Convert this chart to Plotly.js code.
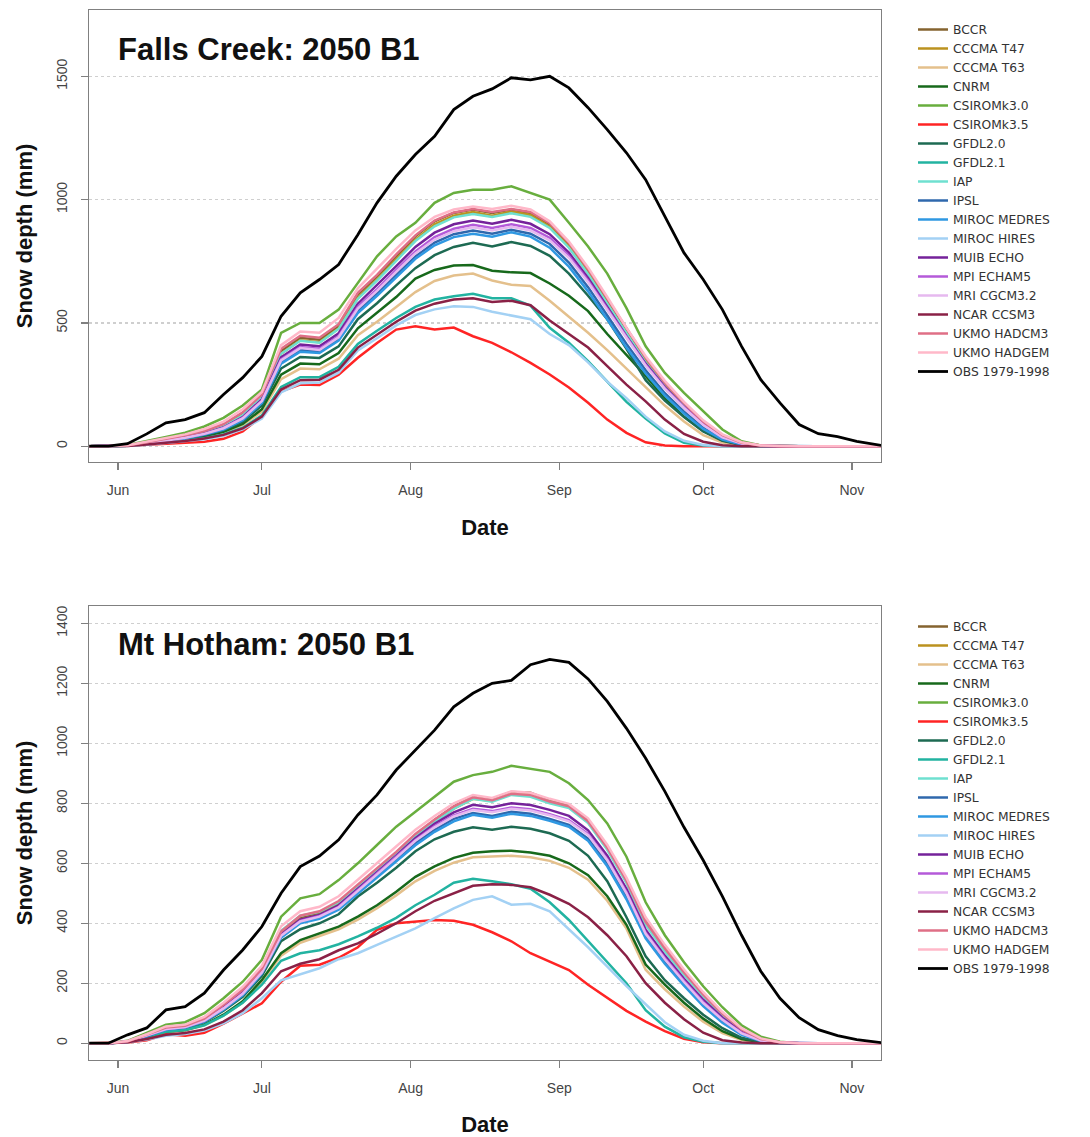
<!DOCTYPE html>
<html><head><meta charset="utf-8">
<script src="https://cdn.plot.ly/plotly-3.0.1.min.js"></script>
<style>html,body{margin:0;padding:0;background:#fff;}#chart{width:1090px;height:1137px;}</style>
</head><body><div id="chart"></div>
<script>
// Sample dates (every 4 days)
const dates = ['2050-05-26','2050-05-30','2050-06-03','2050-06-07','2050-06-11','2050-06-15','2050-06-19','2050-06-23','2050-06-27','2050-07-01',
'2050-07-05','2050-07-09','2050-07-13','2050-07-17','2050-07-21','2050-07-25','2050-07-29','2050-08-02','2050-08-06','2050-08-10',
'2050-08-14','2050-08-18','2050-08-22','2050-08-26','2050-08-30','2050-09-03','2050-09-07','2050-09-11','2050-09-15','2050-09-19',
'2050-09-23','2050-09-27','2050-10-01','2050-10-05','2050-10-09','2050-10-13','2050-10-17','2050-10-21','2050-10-25','2050-10-29',
'2050-11-02','2050-11-08'];

const seriesNames = ['BCCR','CCCMA T47','CCCMA T63','CNRM','CSIROMk3.0','CSIROMk3.5','GFDL2.0','GFDL2.1','IAP','IPSL',
'MIROC MEDRES','MIROC HIRES','MUIB ECHO','MPI ECHAM5','MRI CGCM3.2','NCAR CCSM3','UKMO HADCM3','UKMO HADGEM','OBS 1979-1998'];
const seriesColors = ['#85632f','#bb921f','#e4c08c','#17691b','#68ae3e','#ff2424','#1d6a52','#22b3a1','#6fe0d0','#2f68ad',
'#2f98e2','#a3d1f4','#75229a','#b45ad9','#e6b9ef','#8a2146','#df6f86','#ffb8c9','#000000'];

const monthTicks = ['2050-06-01','2050-07-01','2050-08-01','2050-09-01','2050-10-01','2050-11-01'];
const monthLabels = ['Jun','Jul','Aug','Sep','Oct','Nov'];
const fcYTicks = [0,500,1000,1500];
const mhYTicks = [0,200,400,600,800,1000,1200,1400];

// Falls Creek: 2050 B1 (mm)
const fcOBS = [0,0,10,50,95,108,136,210,278,364, 527,622,676,737,858,987,1095,1183,1257,1365, 1419,1449,1494,1486,1500,1453,1373,1284,1190,1081, 932,784,676,554,405,270,176,88,51,39, 20,0];
const fcBCCR = [0,0,3,15,28,40,58,85,130,203, 386,440,432,486,615,689,770,851,912,946, 960,946,960,946,899,818,710,588,466,351, 250,169,95,41,14,3,0,0,0,0, 0,0];
const fcT47 = [0,0,3,14,27,38,56,82,125,198, 375,430,422,478,602,676,758,838,900,935, 950,935,952,938,890,810,702,580,458,345, 246,165,92,40,13,3,0,0,0,0, 0,0];
const fcT63 = [0,0,2,9,17,26,38,55,86,140, 272,315,312,355,450,505,565,625,670,692, 700,672,655,650,590,525,460,390,315,238, 165,100,45,15,3,0,0,0,0,0, 0,0];
const fcCNRM = [0,0,2,9,18,27,40,58,90,150, 290,335,332,378,478,540,605,680,715,733, 735,712,705,702,660,610,548,455,370,285, 195,120,62,24,6,0,0,0,0,0, 0,0];
const fcCSIRO30 = [0,0,5,20,38,55,80,115,165,230, 460,500,500,554,662,770,851,906,987,1027, 1040,1040,1054,1027,1000,906,810,700,560,405, 297,216,142,68,20,3,0,0,0,0, 0,0];
const fcCSIRO35 = [0,0,2,6,9,12,18,30,60,122, 223,250,248,290,359,419,473,486,473,481, 446,419,381,338,291,238,176,108,54,16, 3,0,0,0,0,0,0,0,0,0, 0,0];
const fcGFDL20 = [0,0,2,10,20,30,44,64,100,165, 315,362,358,405,515,580,652,722,775,808, 825,810,828,812,772,700,610,515,395,268, 185,118,60,22,5,0,0,0,0,0, 0,0];
const fcGFDL21 = [0,0,2,8,15,22,32,48,75,125, 240,280,280,322,415,468,520,565,595,608, 618,600,600,570,480,420,345,262,180,112, 52,14,3,0,0,0,0,0,0,0, 0,0];
const fcIAP = [0,0,3,14,26,38,55,80,125,200, 375,428,420,476,598,672,752,832,892,928, 942,930,945,930,885,805,698,578,455,340, 242,162,90,38,12,2,0,0,0,0, 0,0];
const fcIPSL = [0,0,2,12,23,33,48,70,110,180, 340,390,383,435,548,620,695,770,826,860, 875,862,878,862,820,745,645,530,415,308, 215,140,75,30,8,1,0,0,0,0, 0,0];
const fcMEDRES = [0,0,2,11,22,32,47,68,106,175, 335,383,378,428,540,610,685,760,815,848, 862,850,868,850,805,728,628,515,400,295, 205,132,70,27,7,1,0,0,0,0, 0,0];
const fcHIRES = [0,0,1,6,13,19,28,42,68,112, 218,255,258,298,388,438,490,532,555,568, 565,545,530,515,455,410,340,262,195,120, 60,22,5,0,0,0,0,0,0,0, 0,0];
const fcMUIB = [0,0,3,13,25,36,52,76,118,190, 360,412,405,458,578,652,730,808,866,900, 915,902,918,902,860,785,682,565,446,335, 240,160,90,38,12,2,0,0,0,0, 0,0];
const fcMPI = [0,0,3,13,24,35,50,74,115,185, 352,402,395,447,565,637,715,790,848,882, 898,885,900,885,845,772,672,557,440,330, 236,158,88,37,12,2,0,0,0,0, 0,0];
const fcMRI = [0,0,3,12,24,34,50,73,113,183, 348,398,390,442,558,630,707,782,838,872, 888,875,890,875,835,764,665,551,435,326, 233,155,86,36,11,2,0,0,0,0, 0,0];
const fcNCAR = [0,0,1,7,14,21,31,46,72,120, 230,268,270,310,400,452,505,550,578,595, 600,585,590,572,510,455,400,325,250,182, 108,50,18,4,0,0,0,0,0,0, 0,0];
const fcHADCM3 = [0,0,3,16,30,44,62,90,138,210, 395,448,440,495,622,695,778,855,915,948, 962,950,962,950,905,825,718,598,475,360, 258,175,100,45,14,3,0,0,0,0, 0,0];
const fcHADGEM = [0,0,4,18,33,48,70,100,150,220, 410,465,460,520,640,720,800,875,930,960, 972,962,975,960,912,830,725,605,480,365, 265,180,105,48,16,3,0,0,0,0, 0,0];

// Mt Hotham: 2050 B1 (mm)
const mhOBS = [0,0,28,51,111,122,167,244,311,389, 500,589,624,678,761,828,911,978,1044,1122, 1167,1200,1210,1262,1280,1270,1215,1140,1050,950, 840,720,610,490,360,240,150,85,45,25, 12,0];
const mhBCCR = [0,0,6,28,52,58,80,125,175,244, 367,417,433,467,522,578,633,694,744,789, 822,815,838,835,810,794,744,655,544,410, 320,240,165,100,48,15,3,0,0,0, 0,0];
const mhT47 = [0,0,6,27,50,56,78,122,172,240, 362,412,428,462,516,572,627,688,738,782, 815,808,832,828,804,788,737,648,538,400, 312,232,160,96,45,14,3,0,0,0, 0,0];
const mhT63 = [0,0,4,19,36,42,60,92,136,205, 292,335,358,380,412,450,493,540,575,602, 620,622,625,620,608,585,545,475,382,245, 180,122,72,34,11,2,0,0,0,0, 0,0];
const mhCNRM = [0,0,4,20,38,44,62,95,140,211, 300,344,367,389,422,460,505,555,590,618, 635,640,642,636,625,600,560,490,395,262, 195,135,82,40,14,3,0,0,0,0, 0,0];
const mhCSIRO30 = [0,0,8,35,62,70,100,150,205,278, 422,483,497,544,600,661,722,772,822,872, 894,905,925,915,905,867,811,733,622,470, 360,270,190,120,60,22,5,0,0,0, 0,0];
const mhCSIRO35 = [0,0,2,10,30,25,35,65,100,133, 205,258,262,285,320,378,400,405,411,408, 395,370,340,300,272,244,195,150,108,72, 40,15,3,0,0,0,0,0,0,0, 0,0];
const mhGFDL20 = [0,0,5,24,44,50,70,108,155,225, 340,380,400,430,489,535,585,640,680,705, 720,712,722,715,700,675,625,540,420,290, 210,150,95,50,18,4,0,0,0,0, 0,0];
const mhGFDL21 = [0,0,4,20,38,44,60,92,135,195, 275,300,310,330,356,385,418,460,495,535, 548,540,530,515,470,411,340,270,200,110, 55,20,5,0,0,0,0,0,0,0, 0,0];
const mhIAP = [0,0,6,28,52,58,82,128,180,250, 375,425,438,470,522,576,630,690,738,782, 815,805,828,822,800,784,734,645,535,395, 306,228,156,94,44,13,2,0,0,0, 0,0];
const mhIPSL = [0,0,5,24,46,53,73,114,162,235, 356,404,420,450,503,558,612,668,712,748, 768,758,772,765,748,728,682,598,488,355, 270,196,128,72,30,8,1,0,0,0, 0,0];
const mhMEDRES = [0,0,5,24,45,52,72,112,160,232, 352,400,415,445,498,552,605,660,705,740, 762,752,765,758,742,722,675,590,480,350, 265,192,124,68,28,7,1,0,0,0, 0,0];
const mhHIRES = [0,0,3,12,25,31,42,66,100,150, 210,230,250,280,300,328,356,383,417,450, 478,490,462,465,440,380,320,255,190,130, 70,28,8,0,0,0,0,0,0,0, 0,0];
const mhMUIB = [0,0,6,26,49,56,77,120,170,240, 362,412,428,460,515,570,625,684,732,770, 795,787,800,794,778,758,710,625,515,378, 292,215,145,85,38,10,2,0,0,0, 0,0];
const mhMPI = [0,0,5,25,47,54,75,117,166,238, 360,408,424,455,510,566,621,678,724,760, 782,774,786,780,764,744,698,614,504,368, 284,208,138,80,35,10,2,0,0,0, 0,0];
const mhMRI = [0,0,5,25,47,54,75,116,165,236, 358,406,422,453,507,563,618,675,720,756, 778,770,782,776,760,740,694,610,500,365, 280,204,134,78,33,9,2,0,0,0, 0,0];
const mhNCAR = [0,0,3,14,28,34,46,72,110,167, 240,265,280,310,333,365,400,440,475,500, 525,530,528,520,495,465,420,360,290,200, 135,80,35,10,2,0,0,0,0,0, 0,0];
const mhHADCM3 = [0,0,6,28,52,58,82,128,178,248, 372,425,440,474,528,584,638,698,746,790, 820,810,832,828,806,790,740,652,542,405, 316,236,162,98,46,14,3,0,0,0, 0,0];
const mhHADGEM = [0,0,7,30,56,62,88,135,188,258, 390,440,455,490,545,600,655,712,758,800, 828,818,840,835,815,798,750,662,552,420, 328,246,170,104,50,16,3,0,0,0, 0,0];

const fcValues = [fcBCCR,fcT47,fcT63,fcCNRM,fcCSIRO30,fcCSIRO35,fcGFDL20,fcGFDL21,fcIAP,fcIPSL,fcMEDRES,fcHIRES,fcMUIB,fcMPI,fcMRI,fcNCAR,fcHADCM3,fcHADGEM,fcOBS];
const mhValues = [mhBCCR,mhT47,mhT63,mhCNRM,mhCSIRO30,mhCSIRO35,mhGFDL20,mhGFDL21,mhIAP,mhIPSL,mhMEDRES,mhHIRES,mhMUIB,mhMPI,mhMRI,mhNCAR,mhHADCM3,mhHADGEM,mhOBS];

const traces = [];
seriesNames.forEach((name, i) => {
  traces.push({type:'scatter', mode:'lines', x:dates, y:fcValues[i], name:name,
    line:{color:seriesColors[i], width: i === 18 ? 2.8 : 2.5}, xaxis:'x', yaxis:'y', legend:'legend'});
});
seriesNames.forEach((name, i) => {
  traces.push({type:'scatter', mode:'lines', x:dates, y:mhValues[i], name:name,
    line:{color:seriesColors[i], width: i === 18 ? 2.8 : 2.5}, xaxis:'x2', yaxis:'y2', legend:'legend2'});
});

const W = 1090, H = 1137;
const FONT = 'Liberation Sans, Arial, Helvetica, sans-serif';
const axisBase = {showline:true, linecolor:'#808080', linewidth:1.4, mirror:true, ticks:'outside', ticklen:7,
  tickcolor:'#808080', tickwidth:1.2, tickfont:{family:FONT, size:14, color:'#444'}, zeroline:false, ticklabelstandoff:8};
const xBase = Object.assign({}, axisBase, {type:'date', domain:[89/W, 881/W], range:['2050-05-25 23:00','2050-11-07 01:30'],
  tickmode:'array', tickvals:monthTicks, ticktext:monthLabels, showgrid:false,
  title:{text:'<b>Date</b>', font:{family:FONT, size:22, color:'#111'}, standoff:22}});
const yBase = Object.assign({}, axisBase, {tickmode:'array', tickangle:-90, showgrid:true, gridcolor:'#cfcfcf', griddash:'dot', gridwidth:1.2,
  title:{text:'<b>Snow depth (mm)</b>', font:{family:FONT, size:22, color:'#111'}, standoff:15}});

const legendFont = {family:'DejaVu Sans, sans-serif', size:12.3, color:'#333'};
const layout = {
  width:W, height:H, margin:{l:0, r:0, t:0, b:0}, paper_bgcolor:'#fff', plot_bgcolor:'#fff',
  font:{family:FONT}, showlegend:true,
  xaxis: Object.assign({}, xBase, {anchor:'y'}),
  yaxis: Object.assign({}, yBase, {anchor:'x', domain:[1-462/H, 1-10/H], range:[-64,1769], tickvals:fcYTicks, ticktext:fcYTicks.map(String)}),
  xaxis2: Object.assign({}, xBase, {anchor:'y2'}),
  yaxis2: Object.assign({}, yBase, {anchor:'x2', domain:[1-1060/H, 1-606/H], range:[-56,1458], tickvals:mhYTicks, ticktext:mhYTicks.map(String)}),
  legend:{x:913/W, y:1-15/H, xanchor:'left', yanchor:'top', bgcolor:'rgba(0,0,0,0)', font:legendFont, tracegroupgap:0},
  legend2:{x:913/W, y:1-612/H, xanchor:'left', yanchor:'top', bgcolor:'rgba(0,0,0,0)', font:legendFont, tracegroupgap:0},
  annotations:[
    {text:'<b>Falls Creek: 2050 B1</b>', xref:'paper', yref:'paper', x:116/W, y:1-50/H, xanchor:'left', yanchor:'middle', showarrow:false, font:{family:FONT, size:31, color:'#111'}},
    {text:'<b>Mt Hotham: 2050 B1</b>', xref:'paper', yref:'paper', x:116/W, y:1-644/H, xanchor:'left', yanchor:'middle', showarrow:false, font:{family:FONT, size:31, color:'#111'}}
  ]
};

Plotly.newPlot('chart', traces, layout, {displayModeBar:false, staticPlot:true});
</script>
</body></html>
